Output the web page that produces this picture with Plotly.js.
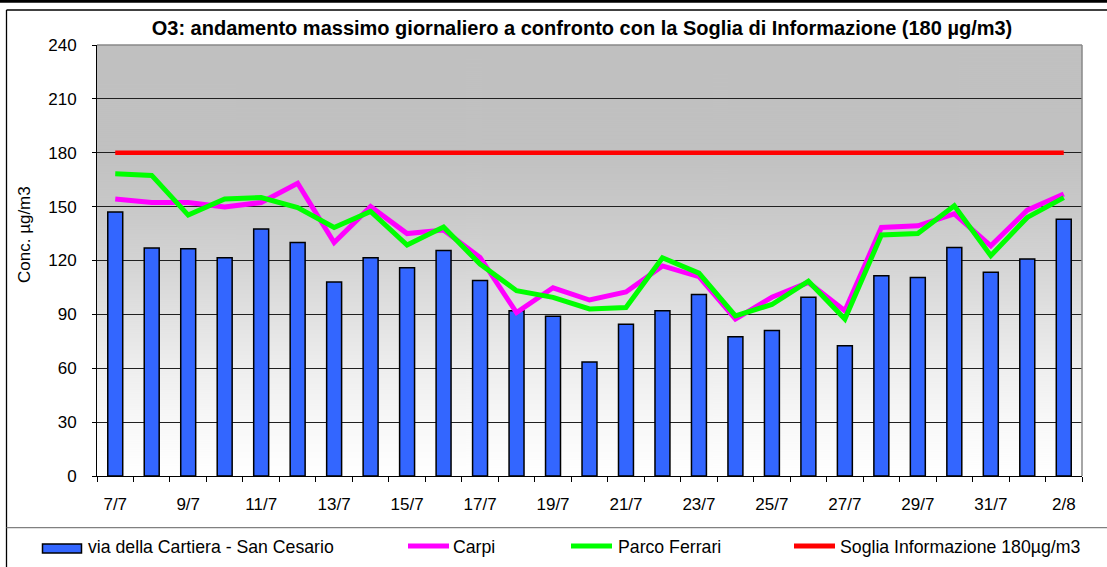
<!DOCTYPE html>
<html>
<head>
<meta charset="utf-8">
<script src="https://cdn.plot.ly/plotly-3.0.1.min.js"></script>
<style>
  html, body { margin: 0; padding: 0; background: #ffffff; }
  #chart { width: 1107px; height: 567px; }
</style>
</head>
<body>
<div id="chart"></div>
<script>
// ---------- DATA ----------
var days = ["7/7","8/7","9/7","10/7","11/7","12/7","13/7","14/7","15/7","16/7","17/7","18/7","19/7","20/7",
            "21/7","22/7","23/7","24/7","25/7","26/7","27/7","28/7","29/7","30/7","31/7","1/8","2/8"];
var dayLabels = ["7/7","","9/7","","11/7","","13/7","","15/7","","17/7","","19/7","",
                 "21/7","","23/7","","25/7","","27/7","","29/7","","31/7","","2/8"];
var cartiera = [147, 127, 126.5, 121.5, 137.5, 130, 108, 121.5, 116, 125.5, 108.8, 92, 89, 63.5,
                84.5, 92, 101, 77.5, 81, 99.5, 72.5, 111.5, 110.6, 127.3, 113.4, 120.8, 143];
var carpi = [154.2, 152.3, 152.3, 149.8, 152.3, 163, 130, 150, 135, 137, 121.7, 91, 104.8, 98,
             102.5, 117, 111, 87.4, 99.5, 107.8, 92, 138.4, 139.3, 146, 128.2, 148, 157];
var ferrari = [168.3, 167.4, 145.3, 154.2, 155.1, 149.5, 138.4, 147.3, 128.6, 138.6, 118, 103.2, 99.5, 93,
               93.8, 121.5, 113, 89.2, 95.5, 108.5, 87.4, 134.2, 135, 150.5, 122.7, 144, 155];
var soglia = [180, 180, 180, 180, 180, 180, 180, 180, 180, 180, 180, 180, 180, 180,
              180, 180, 180, 180, 180, 180, 180, 180, 180, 180, 180, 180, 180];
var seriesNames = ["via della Cartiera - San Cesario", "Carpi", "Parco Ferrari", "Soglia Informazione 180µg/m3"];
var titleText = "O3: andamento massimo giornaliero a confronto con la Soglia di Informazione (180 µg/m3)";
var yTitleText = "Conc. µg/m3";

// ---------- STYLE / LAYOUT HELPERS ----------
var W = 1107, H = 567;
var M = { l: 97, r: 25, t: 45, b: 91 };
var PW = W - M.l - M.r, PH = H - M.t - M.b;
function px2x(px) { return (px - M.l) / PW; }
function px2y(py) { return (H - M.b - py) / PH; }
var FONT = "Liberation Sans, Arial, Helvetica, sans-serif";
var colBar = "#3366ff", colCarpi = "#ff00ff", colFerrari = "#00ff00", colSoglia = "#ff0000";

// gradient background for the plot area
function makeGradient() {
  var c = document.createElement("canvas");
  c.width = 4; c.height = 431;
  var ctx = c.getContext("2d");
  var g = ctx.createLinearGradient(0, 0, 0, c.height);
  var stops = [[0, 192], [0.25, 193], [0.375, 200], [0.5, 211], [0.625, 225], [0.75, 238], [0.875, 248], [1, 255]];
  stops.forEach(function (s) {
    var v = s[1];
    g.addColorStop(s[0], "rgb(" + v + "," + v + "," + v + ")");
  });
  ctx.fillStyle = g;
  ctx.fillRect(0, 0, c.width, c.height);
  return c.toDataURL("image/png");
}

var traces = [
  { type: "bar", x: days, y: cartiera, name: seriesNames[0],
    marker: { color: colBar, line: { color: "#000000", width: 1.5 } } },
  { type: "scatter", mode: "lines", x: days, y: carpi, name: seriesNames[1],
    line: { color: colCarpi, width: 5 } },
  { type: "scatter", mode: "lines", x: days, y: ferrari, name: seriesNames[2],
    line: { color: colFerrari, width: 5 } },
  { type: "scatter", mode: "lines", x: days, y: soglia, name: seriesNames[3],
    line: { color: colSoglia, width: 4.5 } }
];

var shapes = [
  { type: "line", xref: "paper", yref: "paper", x0: 0, x1: 1, y0: 1, y1: 1, line: { color: "#888888", width: 1.5 } },
  { type: "line", xref: "paper", yref: "paper", x0: 1, x1: 1, y0: 0, y1: 1, line: { color: "#888888", width: 1.5 } },
  { type: "line", xref: "paper", yref: "paper", x0: px2x(0), x1: px2x(W), y0: px2y(1.3), y1: px2y(1.3), line: { color: "#000000", width: 3 } },
  { type: "line", xref: "paper", yref: "paper", x0: px2x(6.5), x1: px2x(W), y0: px2y(10), y1: px2y(10), line: { color: "#000000", width: 1.3 } },
  { type: "line", xref: "paper", yref: "paper", x0: px2x(6.5), x1: px2x(6.5), y0: px2y(10), y1: px2y(H), line: { color: "#000000", width: 1.3 } },
  { type: "line", xref: "paper", yref: "paper", x0: px2x(6.5), x1: px2x(W), y0: px2y(527.7), y1: px2y(527.7), line: { color: "#808080", width: 1.3 } },
  { type: "rect", xref: "paper", yref: "paper", x0: px2x(42.5), x1: px2x(81.5), y0: px2y(544), y1: px2y(553),
    fillcolor: colBar, line: { color: "#000000", width: 1.5 } },
  { type: "line", xref: "paper", yref: "paper", x0: px2x(408), x1: px2x(449), y0: px2y(546), y1: px2y(546), line: { color: colCarpi, width: 5 } },
  { type: "line", xref: "paper", yref: "paper", x0: px2x(571), x1: px2x(612), y0: px2y(546), y1: px2y(546), line: { color: colFerrari, width: 5 } },
  { type: "line", xref: "paper", yref: "paper", x0: px2x(794), x1: px2x(835), y0: px2y(546), y1: px2y(546), line: { color: colSoglia, width: 5 } }
];

function legText(txt, px) {
  return { xref: "paper", yref: "paper", x: px2x(px), y: px2y(547), xanchor: "left", yanchor: "middle",
           text: txt, showarrow: false, font: { family: FONT, size: 17.7, color: "#000000" } };
}

var annotations = [
  legText(seriesNames[0], 86),
  legText(seriesNames[1], 451),
  legText(seriesNames[2], 616),
  legText(seriesNames[3], 838),
  { xref: "paper", yref: "paper", x: px2x(25), y: px2y(235), xanchor: "center", yanchor: "middle",
    text: yTitleText, textangle: -90, showarrow: false, font: { family: FONT, size: 17, color: "#000000" } }
];

var layout = {
  width: W, height: H,
  margin: M,
  paper_bgcolor: "#ffffff",
  plot_bgcolor: "rgba(0,0,0,0)",
  showlegend: false,
  bargap: 0.59,
  font: { family: FONT, size: 17, color: "#000000" },
  title: { text: titleText, font: { family: FONT, size: 20, weight: "bold", color: "#000000" },
           xref: "container", yref: "container", x: 582 / W, xanchor: "center", y: 1 - 27.5 / H, yanchor: "middle" },
  xaxis: {
    type: "category",
    tickmode: "array", tickvals: days, ticktext: dayLabels, tickangle: 0,
    tickson: "boundaries", ticks: "outside", ticklen: 5, tickcolor: "#000000", tickwidth: 1,
    showgrid: false, showline: true, linecolor: "#000000", linewidth: 1, zeroline: false,
    ticklabelstandoff: 13,
    tickfont: { family: FONT, size: 17, color: "#000000" },
    range: [-0.5, days.length - 0.5], fixedrange: true
  },
  yaxis: {
    range: [0, 240], dtick: 30, tick0: 0,
    ticks: "outside", ticklen: 4, tickcolor: "#000000", tickwidth: 1,
    showgrid: true, gridcolor: "#202020", gridwidth: 1,
    showline: true, linecolor: "#000000", linewidth: 1, zeroline: false,
    ticklabelstandoff: 12,
    tickfont: { family: FONT, size: 17, color: "#000000" },
    fixedrange: true
  },
  images: [{ source: makeGradient(), xref: "paper", yref: "paper", x: 0, y: 1, sizex: 1, sizey: 1,
             xanchor: "left", yanchor: "top", sizing: "stretch", layer: "below" }],
  shapes: shapes,
  annotations: annotations
};

Plotly.newPlot("chart", traces, layout, { staticPlot: true, displayModeBar: false });
</script>
</body>
</html>
